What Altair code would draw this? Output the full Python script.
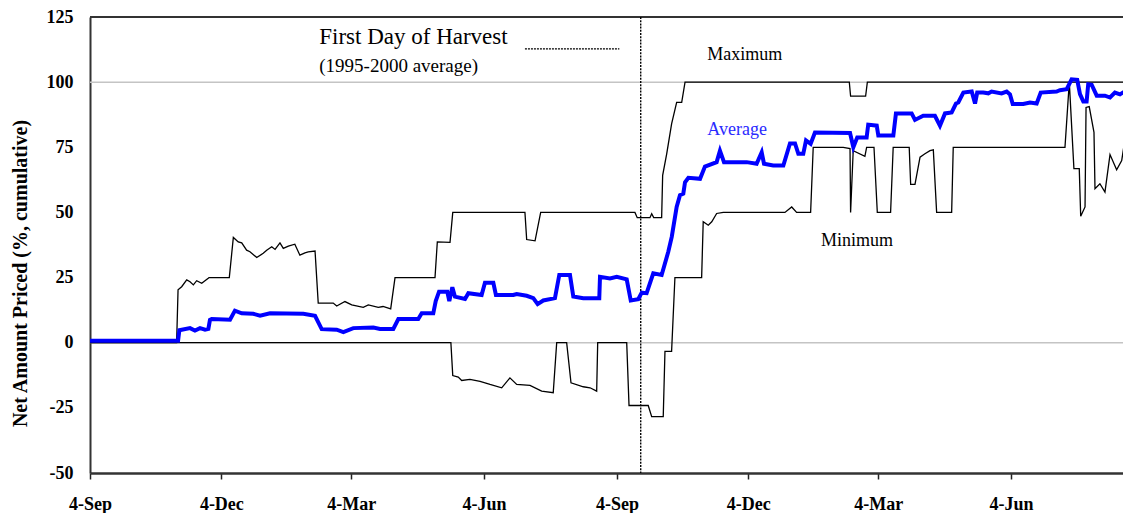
import altair as alt
import pandas as pd

# ---- data (day offset from 4-Sep, percent priced) ----
max_days = [0, 60, 61, 63.5, 67, 69.3, 71.6, 73.9, 77.4, 81.9, 82.5, 96.5, 99.3, 102.7, 105.1, 108.5,
            110.8, 115.5, 120, 122.4, 125.9, 128.2, 131.6, 133.9, 137.4, 141.9, 145.4, 148.9, 151.2,
            155.9, 158.1, 168.5, 170.9, 176.6, 181.3, 189.3, 192.8, 199.7, 203, 208.3, 211.3, 239,
            240.6, 249.4, 251.3, 301.3, 302.5, 308.3, 312.2, 377.5, 379.1, 387.9, 389.1, 390.5, 396,
            396.7, 399.5, 402.9, 406.4, 409.9, 412.2, 526, 526.9, 537.3, 538.5, 721]
max_vals = [0, 0, 20.3, 21.5, 24.1, 23.4, 22.2, 23.8, 22.8, 24.7, 25, 25, 40.4, 38.7, 38.3, 35.5,
            34.9, 32.7, 34.3, 35.5, 36.8, 35.8, 38.3, 36.2, 37.1, 37.8, 33.6, 34.5, 34.9,
            35.2, 15.2, 15.2, 14.1, 15.8, 14.5, 13.6, 14.5, 13.6, 13.9, 13, 25, 25,
            38.7, 38.5, 50, 50, 39.6, 39.1, 50, 50, 48, 48, 49.5, 48, 48,
            64.2, 72.5, 84, 92.2, 92.2, 100, 100, 94.6, 94.6, 100, 100]

min_days = [0, 250, 251.3, 255.1, 257.5, 263.2, 270.2, 277.1, 285.2, 290.9, 295.6, 304.8, 312.9,
            320.9, 323.3, 330.2, 333.2, 341.7, 346.4, 351, 351.7, 371.8, 373.4, 386.7, 389.1, 397.1,
            398.3, 402.9, 405.2, 423.7, 424.8, 428.3, 430.7, 434.1, 438.7, 481.4, 486.1, 489.5,
            499.2, 501, 521.8, 526.5, 526.9, 528.7, 536.8, 538, 543.1, 545.4, 554.6, 556.4, 567.5,
            568.5, 571.5, 575, 578.4, 581.9, 584.2, 586.5, 596.9, 598, 675.4, 678.4, 681.6, 685.3,
            686.3, 689.3, 690, 692.2, 695.5, 696.2, 699.6, 703.1, 706.6, 711.2, 714.7, 717, 719.3,
            721.1]
min_vals = [0, 0, -12.6, -13.2, -14.5, -14.1, -14.8, -16, -17.3, -13.5, -16, -16.4, -18.6,
            -19.2, 0, 0, -15.4, -16.9, -17.3, -18.6, 0, 0, -24.1, -24.1, -28.4, -28.4,
            -3.3, -3.3, 25, 25, 46.4, 45.1, 46.4, 49.6, 50, 50, 52.1, 50,
            50, 75, 75, 74.5, 50, 73.7, 71.5, 75, 75, 50, 50, 75, 75,
            60.8, 60.8, 71.2, 72.5, 73.7, 74, 50, 50, 75, 75, 100, 66.8, 66.8,
            48.5, 52.1, 90.3, 90.6, 80.7, 59.1, 61, 57.8, 72.2, 66.4, 69.9, 78.2, 78.6,
            80.1]

avg_days = [0, 61.0, 61.9, 69.3, 72.7, 76.2, 79.7, 82.0, 83.1, 84.3, 97.0, 100.4, 105.1, 113.1,
            117.8, 124.7, 147.8, 155.9, 160.5, 170.9, 175.5, 182.4, 196.3, 200.9, 210.1, 213.6,
            227.4, 229.8, 237.8, 239.5, 241.8, 247.5, 248.9, 251.0, 252.8, 259.8, 262.1, 271.3,
            273.6, 279.4, 281.2, 293.2, 295.6, 302.5, 307.1, 310.1, 314.0, 322.1, 325.1, 332.5,
            334.8, 341.7, 352.8, 353.3, 360.2, 364.9, 371.8, 374.6, 379.8, 382.2, 385.6, 390.2,
            396.0, 400.6, 403.0, 406.4, 408.7, 411.0, 412.2, 414.5, 422.6, 426.0, 434.1, 436.4,
            439.2, 454.9, 461.8, 465.3, 466.9, 473.3, 480.3, 484.9, 488.4, 490.7, 494.1, 496.0,
            499.2, 502.2, 526.5, 528.8, 531.5, 538.0, 539.1, 545.0, 546.1, 556.5, 558.3, 569.2,
            571.5, 577.2, 585.3, 588.8, 592.3, 596.9, 599.9, 601.5, 605.0, 610.8, 613.1, 614.6,
            618.8, 622.3, 624.6, 631.5, 635.0, 637.3, 639.2, 646.5, 651.2, 655.8, 658.6, 669.6,
            671.9, 676.6, 680.0, 683.9, 685.8, 688.1, 690.4, 691.5, 693.9, 697.4, 703.1, 706.6,
            710.0, 713.5, 718.1, 721.1]
avg_vals = [0.8, 0.8, 4.8, 5.6, 4.7, 5.6, 5.0, 5.3, 8.8, 9.1, 8.8, 12.3, 11.3, 11.1,
            10.4, 11.3, 11.1, 10.3, 5.2, 5.0, 4.1, 5.6, 5.8, 5.3, 5.3, 9.1,
            9.1, 11.3, 11.3, 16.0, 19.6, 19.6, 16.0, 21.3, 17.7, 16.8, 19.0, 18.3,
            23.0, 23.0, 18.3, 18.3, 18.7, 18.0, 17.1, 14.8, 16.2, 17.1, 26.0, 26.0,
            17.7, 17.1, 17.1, 25.3, 24.7, 25.3, 24.3, 16.2, 16.7, 19.2, 19.0, 26.6,
            26.0, 34.9, 40.6, 52.1, 56.6, 57.2, 61.6, 63.3, 62.9, 67.6, 69.3, 73.7,
            69.3, 69.3, 68.7, 73.1, 68.7, 68.0, 68.0, 76.5, 76.5, 72.5, 72.5, 77.6,
            76.3, 80.7, 80.5, 75.0, 78.8, 78.8, 83.7, 83.3, 79.5, 79.5, 88.0, 88.0,
            85.5, 87.1, 87.1, 83.3, 88.0, 88.4, 91.8, 92.2, 96.0, 96.4, 91.8, 96.0,
            96.0, 95.7, 96.4, 95.7, 96.4, 95.3, 91.6, 91.6, 92.2, 91.8, 96.0, 96.4,
            96.9, 97.3, 101.1, 100.9, 95.4, 92.6, 92.6, 99.2, 99.0, 94.8, 94.8, 94.1,
            96.0, 95.3, 96.9, 98.0]

tick_days = [0, 91, 181, 273, 365, 456, 546, 638]
tick_labels = ["4-Sep", "4-Dec", "4-Mar", "4-Jun", "4-Sep", "4-Dec", "4-Mar", "4-Jun"]
y_ticks = [-50, -25, 0, 25, 50, 75, 100, 125]
ref_lines = [0, 100]
harvest_day = 381.5
x_end = 715.6

SERIF = "Liberation Serif"

label_expr = " : ".join(
    f"datum.value == {d} ? '{t}'" for d, t in zip(tick_days, tick_labels)
) + " : ''"

x_enc = alt.X(
    "day:Q",
    scale=alt.Scale(domain=[0, x_end], nice=False, zero=False),
    axis=alt.Axis(
        values=tick_days, labelExpr=label_expr, grid=False, ticks=True, tickSize=6,
        tickColor="#222222", tickWidth=1.5, domainColor="#333333", domainWidth=2.5,
        labelFont=SERIF, labelFontSize=18, labelFontWeight="bold", labelColor="black",
        labelPadding=16, labelFlush=False, labelOverlap=False, title=None,
    ),
)
y_enc = alt.Y(
    "value:Q",
    scale=alt.Scale(domain=[-50, 125], nice=False, zero=False),
    axis=alt.Axis(
        values=y_ticks, labelExpr="datum.value + ''", grid=False, ticks=False, tickSize=0,
        domainColor="#333333", domainWidth=2, labelFont=SERIF, labelFontSize=18,
        labelFontWeight="bold", labelColor="black", labelPadding=17,
        title="Net Amount Priced (%, cumulative)", titleFont=SERIF, titleFontSize=20,
        titleFontWeight="bold", titleColor="black", titleX=-70, titleY=256,
        titleAngle=270, titleAlign="center", titleBaseline="middle",
    ),
)

df_max = pd.DataFrame({"day": max_days, "value": max_vals})
df_min = pd.DataFrame({"day": min_days, "value": min_vals})
df_avg = pd.DataFrame({"day": avg_days, "value": avg_vals})

grid = alt.Chart(pd.DataFrame({"value": ref_lines})).mark_rule(
    color="#c4c4c4", strokeWidth=1.5
).encode(y=y_enc)

top = alt.Chart(pd.DataFrame({"value": [125]})).mark_rule(
    color="#333333", strokeWidth=2
).encode(y=y_enc)

harvest = alt.Chart(pd.DataFrame({"day": [harvest_day]})).mark_rule(
    color="black", strokeWidth=1.4, strokeDash=[2, 1.2]
).encode(x=x_enc)

line_max = alt.Chart(df_max).mark_line(color="black", strokeWidth=1.3, clip=True).encode(
    x=x_enc, y=y_enc, order="day:Q")
line_min = alt.Chart(df_min).mark_line(color="black", strokeWidth=1.3, clip=True).encode(
    x=x_enc, y=y_enc, order="day:Q")
line_avg = alt.Chart(df_avg).mark_line(color="#0000ff", strokeWidth=4, clip=True).encode(
    x=x_enc, y=y_enc, order="day:Q")

legend_line = alt.Chart(pd.DataFrame({"day": [301.3], "day2": [366.7], "value": [112.8]})).mark_rule(
    color="black", strokeWidth=1.2, strokeDash=[2, 1]
).encode(x=x_enc, x2="day2:Q", y=y_enc)


def label(text, day, value, size, color="black"):
    return alt.Chart(pd.DataFrame({"day": [day], "value": [value], "t": [text]})).mark_text(
        align="left", baseline="alphabetic", font=SERIF, fontSize=size, color=color
    ).encode(x=x_enc, y=y_enc, text="t:N")


labels = [
    label("First Day of Harvest", 158.8, 114.6, 23),
    label("(1995-2000 average)", 158.8, 103.9, 19),
    label("Maximum", 427.6, 108.4, 18),
    label("Average", 427.6, 79.9, 18, "#2a2aff"),
    label("Minimum", 506.4, 37.1, 18),
]

chart = alt.layer(
    grid, top, harvest, line_max, line_min, line_avg, legend_line, *labels
).properties(
    width=1033, height=456,
    autosize=alt.AutoSizeParams(type="none"),
    padding={"left": 82, "top": 9, "right": 0, "bottom": 40},
    background="white",
).configure_view(stroke="transparent")

chart.save("out.html", embed_options={"renderer": "svg", "actions": False})
